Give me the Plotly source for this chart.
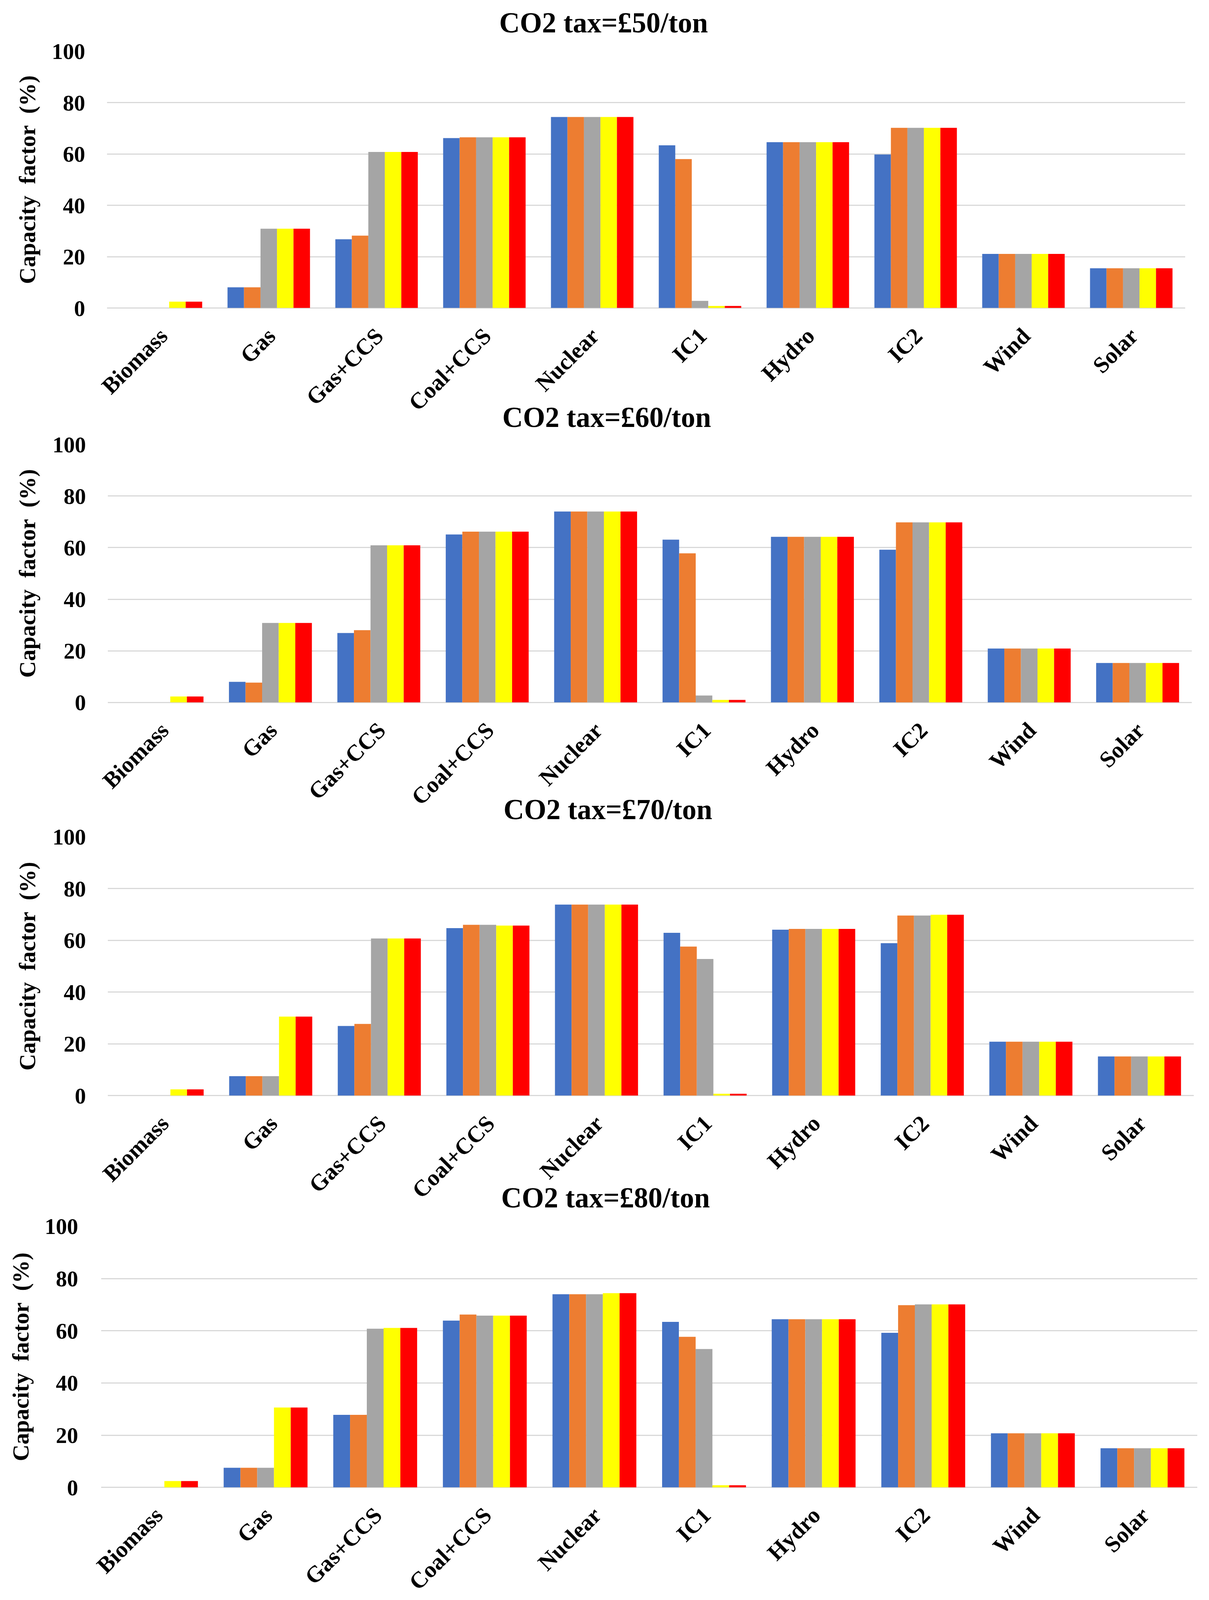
import plotly.graph_objects as go

# ---------------- data ----------------
categories = ["Biomass", "Gas", "Gas+CCS", "Coal+CCS", "Nuclear", "IC1", "Hydro", "IC2", "Wind", "Solar"]
y_ticks = [0, 20, 40, 60, 80, 100]
titles = ["CO2 tax=£50/ton", "CO2 tax=£60/ton", "CO2 tax=£70/ton", "CO2 tax=£80/ton"]
y_title = "Capacity\u00a0 factor\u00a0 (%)"

tax50_s1 = [0, 8.1, 26.8, 66.2, 74.4, 63.4, 64.6, 59.8, 21.1, 15.5]
tax50_s2 = [0, 8.1, 28.2, 66.5, 74.4, 58.0, 64.6, 70.2, 21.1, 15.5]
tax50_s3 = [0, 30.9, 60.8, 66.5, 74.4, 2.8, 64.6, 70.2, 21.1, 15.5]
tax50_s4 = [2.5, 30.9, 60.8, 66.5, 74.4, 0.8, 64.6, 70.2, 21.1, 15.5]
tax50_s5 = [2.5, 30.9, 60.8, 66.5, 74.4, 0.8, 64.6, 70.2, 21.1, 15.5]

tax60_s1 = [0, 8.0, 26.9, 65.1, 74.0, 63.1, 64.2, 59.2, 20.9, 15.3]
tax60_s2 = [0, 7.7, 28.0, 66.2, 74.0, 57.8, 64.2, 69.8, 20.9, 15.3]
tax60_s3 = [0, 30.8, 60.9, 66.2, 74.0, 2.7, 64.2, 69.8, 20.9, 15.3]
tax60_s4 = [2.3, 30.8, 60.9, 66.2, 74.0, 1.0, 64.2, 69.8, 20.9, 15.3]
tax60_s5 = [2.3, 30.8, 60.9, 66.2, 74.0, 1.0, 64.2, 69.8, 20.9, 15.3]

tax70_s1 = [0, 7.5, 26.9, 64.7, 73.8, 62.9, 64.1, 58.9, 20.8, 15.1]
tax70_s2 = [0, 7.5, 27.7, 66.0, 73.8, 57.6, 64.4, 69.6, 20.8, 15.1]
tax70_s3 = [0, 7.5, 60.7, 66.0, 73.8, 52.8, 64.4, 69.6, 20.8, 15.1]
tax70_s4 = [2.4, 30.5, 60.7, 65.7, 73.8, 0.7, 64.4, 69.9, 20.8, 15.1]
tax70_s5 = [2.4, 30.5, 60.7, 65.7, 73.8, 0.7, 64.4, 69.9, 20.8, 15.1]

tax80_s1 = [0, 7.5, 27.8, 63.9, 74.0, 63.4, 64.4, 59.2, 20.7, 15.0]
tax80_s2 = [0, 7.5, 27.8, 66.2, 74.0, 57.7, 64.4, 69.8, 20.7, 15.0]
tax80_s3 = [0, 7.5, 60.8, 65.8, 74.0, 53.0, 64.4, 70.1, 20.7, 15.0]
tax80_s4 = [2.4, 30.6, 61.1, 65.8, 74.4, 0.8, 64.4, 70.1, 20.7, 15.0]
tax80_s5 = [2.4, 30.6, 61.1, 65.8, 74.4, 0.8, 64.4, 70.1, 20.7, 15.0]

panels = [
    [tax50_s1, tax50_s2, tax50_s3, tax50_s4, tax50_s5],
    [tax60_s1, tax60_s2, tax60_s3, tax60_s4, tax60_s5],
    [tax70_s1, tax70_s2, tax70_s3, tax70_s4, tax70_s5],
    [tax80_s1, tax80_s2, tax80_s3, tax80_s4, tax80_s5],
]

# ---------------- style / layout ----------------
# Reference picture is 3095 x 4929; the browser viewport is only 4096 px tall,
# so the figure is laid out in reference-pixel fractions on a 3095 x 4096 page.
W, H_REF = 3095, 4929
H_VIEW = 4096
FS = 0.92  # font scale to keep texts from colliding on the shorter page
colors = ["#4472C4", "#ED7D31", "#A5A5A5", "#FFFF00", "#FF0000"]
FONT = "Liberation Serif, Times New Roman, serif"

# plot-area boxes in reference pixels: (x_left, x_right, y_top(=100), y_bottom(=0))
boxes = [
    (274, 3034, 158, 949),
    (276, 3051, 1369, 2164),
    (276, 3056, 2578, 3375),
    (259, 3065, 3778, 4582),
]
title_pos = [(1545, 70), (1553, 1286), (1556, 2494), (1550, 3690)]
ytitle_x = [70, 70, 70, 53]
y_standoff = [55, 55, 55, 58]


def px_x(p):
    return p / W


def px_y(p):
    return 1 - p / H_REF


fig = go.Figure()
layout_axes = {}
annotations = []

for i, series in enumerate(panels):
    n = i + 1
    xa = "x" if n == 1 else f"x{n}"
    ya = "y" if n == 1 else f"y{n}"
    for j, vals in enumerate(series):
        fig.add_trace(go.Bar(
            x=categories, y=vals, name=f"Series {j + 1}",
            marker=dict(color=colors[j], line=dict(width=0)),
            xaxis=xa, yaxis=ya, showlegend=False,
        ))
    xl, xr, yt, yb = boxes[i]
    xkey = "xaxis" if n == 1 else f"xaxis{n}"
    ykey = "yaxis" if n == 1 else f"yaxis{n}"
    layout_axes[xkey] = dict(
        domain=[px_x(xl), px_x(xr)], anchor=ya, automargin=False,
        tickangle=-45, showgrid=False, showline=False, ticks="", zeroline=False,
        tickfont=dict(family=FONT, size=round(64 * FS), color="#000000", weight="bold"),
        ticklabelstandoff=24,
    )
    layout_axes[ykey] = dict(
        domain=[px_y(yb), px_y(yt)], anchor=xa, range=[0, 100], automargin=False,
        tickvals=y_ticks, showgrid=True, gridcolor="#D9D9D9", gridwidth=3,
        zeroline=True, zerolinecolor="#D9D9D9", zerolinewidth=3,
        showline=False, ticks="",
        tickfont=dict(family=FONT, size=round(62 * FS), color="#000000", weight="bold"),
        ticklabelstandoff=y_standoff[i],
    )
    tx, ty = title_pos[i]
    annotations.append(dict(
        text=titles[i], xref="paper", yref="paper", x=px_x(tx), y=px_y(ty),
        xanchor="center", yanchor="middle", showarrow=False,
        font=dict(family=FONT, size=round(79 * FS), color="#000000", weight="bold"),
    ))
    annotations.append(dict(
        text=y_title, xref="paper", yref="paper", x=px_x(ytitle_x[i]),
        y=px_y((yt + yb) / 2), xanchor="center", yanchor="middle",
        textangle=-90, showarrow=False,
        font=dict(family=FONT, size=round(64 * FS), color="#000000", weight="bold"),
    ))

fig.update_layout(
    template="none",
    width=W, height=H_VIEW, autosize=False,
    margin=dict(l=0, r=0, t=0, b=0, pad=0),
    paper_bgcolor="#FFFFFF", plot_bgcolor="#FFFFFF",
    barmode="group", bargap=0.235, bargroupgap=0,
    showlegend=False,
    annotations=annotations,
    **layout_axes,
)

# remove the default 8px page margin so the figure sits exactly in the viewport
page_css = "document.body.style.margin='0';document.body.style.overflow='hidden';"

fig.write_html("out.html", post_script=page_css, config={"displayModeBar": False})
